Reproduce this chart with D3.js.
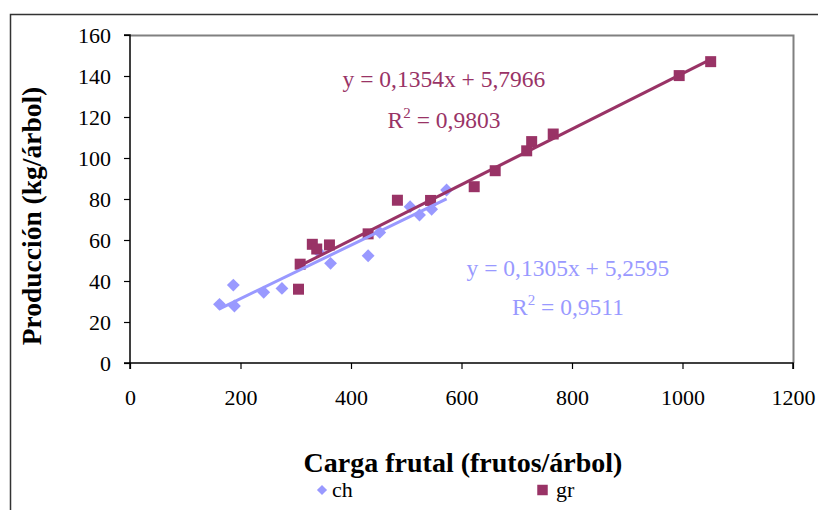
<!DOCTYPE html>
<html>
<head>
<meta charset="utf-8">
<script src="https://cdn.jsdelivr.net/npm/d3@7"></script>
<style>
  body { margin: 0; background: #fff; }
  svg { display: block; font-family: "Liberation Serif", "Times New Roman", serif; }
</style>
</head>
<body>
<svg id="chart" width="818" height="510"></svg>
<script>
'use strict';

// carga frutal (frutos/árbol) and producción (kg/árbol)
const chX = [162, 187, 189, 242, 275, 341, 363, 431, 452, 507, 524, 546, 573];
const chY = [28.6, 38, 27.8, 34.5, 36.4, 54.3, 48.6, 52.3, 63.7, 76.2, 72.2, 75, 84.4];
const grX = [305, 308, 330, 338, 361, 431, 484, 544, 623, 661, 718, 727, 766, 994, 1051];
const grY = [36, 48.2, 57.9, 55.6, 57.6, 63, 79.4, 79.3, 86, 93.8, 103.5, 108, 111.7, 140.2, 147];

const xTicks = [0, 200, 400, 600, 800, 1000, 1200];
const yTicks = [0, 20, 40, 60, 80, 100, 120, 140, 160];

const chFit = { slope: 0.1305, icept: 5.2595, eq: 'y = 0,1305x + 5,2595', r2: ' = 0,9511' };
const grFit = { slope: 0.1354, icept: 5.7966, eq: 'y = 0,1354x + 5,7966', r2: ' = 0,9803' };

const chColor = '#9999ff';
const grColor = '#993366';

const svg = d3.select('#chart');

const x = d3.scaleLinear().domain([0, 1200]).range([130, 793]);
const y = d3.scaleLinear().domain([0, 160]).range([363, 35]);

// chart frame (only top and left visible)
svg.append('path')
    .attr('d', 'M10.5,520 V14.5 H830')
    .attr('fill', 'none')
    .attr('stroke', '#333')
    .attr('stroke-width', 1.5);

// plot area border (top & right gray)
svg.append('path')
    .attr('d', 'M' + x(0) + ',' + (y(160) + 0.5) + ' H' + (x(1200) + 0.5) + ' V' + y(0))
    .attr('fill', 'none')
    .attr('stroke', '#808080')
    .attr('stroke-width', 2);

// axes
const xAxis = svg.append('g')
    .attr('transform', 'translate(0,' + y(0) + ')')
    .call(d3.axisBottom(x).tickValues(xTicks).tickSize(6).tickPadding(20).tickFormat(d3.format('d')));
const yAxis = svg.append('g')
    .attr('transform', 'translate(' + x(0) + ',0)')
    .call(d3.axisLeft(y).tickValues(yTicks).tickSize(6).tickPadding(13).tickFormat(d3.format('d')));

[xAxis, yAxis].forEach(g => {
    g.attr('font-family', null).attr('font-size', null);
    g.select('.domain').attr('stroke', '#000').attr('stroke-width', 1.5);
    g.selectAll('.tick line').attr('stroke', '#000').attr('stroke-width', 1.2);
    g.selectAll('.tick text').attr('fill', '#000').style('font-size', '22px');
});
xAxis.select('.domain').attr('d', 'M' + x(0) + ',6V0H' + x(1200) + 'V6');
yAxis.select('.domain').attr('d', 'M-6,' + y(160) + 'H0V' + y(0) + 'H-6');
yAxis.selectAll('.tick text').attr('dy', '0.35em');

// trend lines
function trend(xs, fit, color) {
    const ext = d3.extent(xs);
    svg.append('line')
        .attr('x1', x(ext[0])).attr('y1', y(fit.slope * ext[0] + fit.icept))
        .attr('x2', x(ext[1])).attr('y2', y(fit.slope * ext[1] + fit.icept))
        .attr('stroke', color)
        .attr('stroke-width', 3);
}

// markers
const diamond = d3.symbol().type(d3.symbolDiamond2).size(105);
const square = d3.symbol().type(d3.symbolSquare).size(121);

svg.append('g').selectAll('path')
    .data(chX.map((v, i) => [v, chY[i]]))
    .enter().append('path')
    .attr('transform', d => 'translate(' + x(d[0]) + ',' + y(d[1]) + ')')
    .attr('d', diamond)
    .attr('fill', chColor);

svg.append('g').selectAll('path')
    .data(grX.map((v, i) => [v, grY[i]]))
    .enter().append('path')
    .attr('transform', d => 'translate(' + x(d[0]) + ',' + y(d[1]) + ')')
    .attr('d', square)
    .attr('fill', grColor);

trend(grX, grFit, grColor);
trend(chX, chFit, chColor);

// equation labels
function eqLabel(fit, color, cx, yEq, yR2) {
    svg.append('text')
        .attr('x', cx).attr('y', yEq)
        .attr('text-anchor', 'middle')
        .attr('fill', color)
        .style('font-size', '23.5px')
        .text(fit.eq);
    const t = svg.append('text')
        .attr('x', cx).attr('y', yR2)
        .attr('text-anchor', 'middle')
        .attr('fill', color)
        .style('font-size', '23.5px');
    t.append('tspan').text('R');
    t.append('tspan').attr('dy', -10).style('font-size', '15px').text('2');
    t.append('tspan').attr('dy', 10).text(fit.r2);
}
eqLabel(grFit, grColor, 444, 87, 128);
eqLabel(chFit, chColor, 568, 276, 315);

// axis titles
svg.append('text')
    .attr('x', 463).attr('y', 472)
    .attr('text-anchor', 'middle')
    .attr('font-weight', 'bold')
    .style('font-size', '28px')
    .text('Carga frutal (frutos/árbol)');

svg.append('text')
    .attr('transform', 'translate(41,216) rotate(-90)')
    .attr('text-anchor', 'middle')
    .attr('font-weight', 'bold')
    .style('font-size', '27.5px')
    .text('Producción (kg/árbol)');

// legend
const legend = svg.append('g');
legend.append('path')
    .attr('transform', 'translate(322,490)')
    .attr('d', d3.symbol().type(d3.symbolDiamond2).size(65))
    .attr('fill', chColor);
legend.append('text')
    .attr('x', 332).attr('y', 497)
    .style('font-size', '22px')
    .text('ch');
legend.append('path')
    .attr('transform', 'translate(542.5,490)')
    .attr('d', d3.symbol().type(d3.symbolSquare).size(110))
    .attr('fill', grColor);
legend.append('text')
    .attr('x', 556).attr('y', 497)
    .style('font-size', '22px')
    .text('gr');
</script>
</body>
</html>
